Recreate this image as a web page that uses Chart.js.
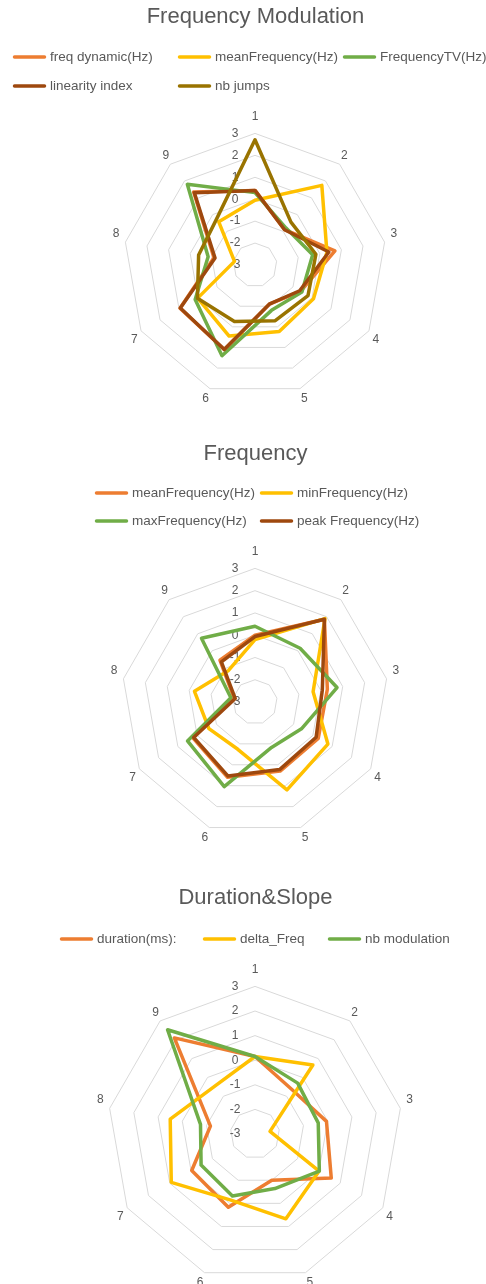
<!DOCTYPE html>
<html>
  <head>
    <title>Radar charts</title>
    <style>
      body { margin: 0; width: 486px; height: 1284px; overflow: hidden; background: #fff; position: relative; }
      canvas { position: absolute; left: 0; }
    </style>
  </head>
  <body>

    <canvas id="fmChart" width="486" height="430" style="top:0px"></canvas>
    <canvas id="freqChart" width="486" height="440" style="top:430px"></canvas>
    <canvas id="durChart" width="486" height="445" style="top:870px"></canvas>

    <script src="https://cdn.jsdelivr.net/npm/chart.js"></script>
    <script>

    // spokes of every radar
    const axisLabels = ['1', '2', '3', '4', '5', '6', '7', '8', '9'];
    const scaleMin = -3;
    const scaleMax = 3;

    // Frequency Modulation
    const fmNames = ['freq dynamic(Hz)', 'meanFrequency(Hz)', 'FrequencyTV(Hz)', 'linearity index', 'nb jumps'];
    const freqDynamic = [0.4, -0.9, 0.7, -0.6, -1.1, 1.1, 0.95, -1.1, 1.35];
    const meanFreqFM = [-0.05, 1.74, 0.33, 0.08, 0.23, 0.45, 0.02, -2.05, -0.43];
    const freqTV = [0.3, -0.8, -0.33, -0.53, -0.8, 1.4, 0.15, -0.83, 1.8];
    const linearity = [0.4, -0.9, 0.42, -0.65, -1.1, 1.1, 0.93, -1.15, 1.3];
    const nbJumps = [2.71, -0.45, -0.18, -0.21, -0.3, -0.26, 0.03, -0.39, -0.27];

    // Frequency
    const freqNames = ['meanFrequency(Hz)', 'minFrequency(Hz)', 'maxFrequency(Hz)', 'peak Frequency(Hz)'];
    const meanFreq = [0.0, 1.85, 0.3, 0.28, 0.3, 0.6, 0.22, -2.05, -0.55];
    const minFreq = [-0.2, 1.89, -0.35, 0.78, 1.2, -0.74, -0.61, -0.24, -1.15];
    const maxFreq = [0.4, 0.15, 0.74, -0.59, -0.83, 1.04, 0.5, -1.9, 0.74];
    const peakFreq = [-0.06, 1.85, 0.07, 0.17, 0.23, 0.54, 0.18, -2.1, -0.65];

    // Duration&Slope
    const durNames = ['duration(ms):', 'delta_Freq', 'nb modulation'];
    const duration = [0.15, -0.65, -0.05, 0.58, -1.0, 0.17, -0.03, -1.16, 2.1];
    const deltaFreq = [0.15, 0.66, -2.38, 0.01, 0.67, -0.14, 0.93, 0.5, -0.46];
    const nbModulation = [0.15, -0.3, -0.39, 0.02, -0.64, -0.32, -0.47, -0.75, 2.53];

    const ORANGE = '#ED7D31', GOLD = '#FFC000', GREEN = '#70AD47', BROWN = '#9E480E', OLIVE = '#997300';
    const TEXT = '#595959';
    const FONT = '"Liberation Sans", Arial, sans-serif';
    const LINE_W = 3.5;

    Chart.defaults.font.family = FONT;
    Chart.defaults.color = TEXT;

    // excel puts the spoke labels closer to the ring than chart.js does
    const labelPad = [4, -4, 0, -2, -3, -3, -2, 0, -4];

    // legend laid out like excel: a short line then the name
    const gridLegend = {
      id: 'gridLegend',
      afterDraw(chart, args, opts) {
        const ctx = chart.ctx;
        ctx.save();
        ctx.font = '13.5px ' + FONT;
        ctx.textBaseline = 'middle';
        ctx.lineWidth = LINE_W;
        ctx.lineCap = 'round';
        chart.data.datasets.forEach((ds, i) => {
          const x = opts.x[i], y = opts.y[i];
          ctx.strokeStyle = ds.borderColor;
          ctx.beginPath();
          ctx.moveTo(x + 1.5, y);
          ctx.lineTo(x + 31.5, y);
          ctx.stroke();
          ctx.fillStyle = TEXT;
          ctx.fillText(ds.label, x + 37, y);
        });
        ctx.restore();
      }
    };

    function makeSets(names, series, colors) {
      return names.map((name, i) => ({
        label: name,
        data: series[i],
        borderColor: colors[i],
        backgroundColor: colors[i],
        borderWidth: LINE_W,
        fill: false,
        pointRadius: 0,
        pointHoverRadius: 0,
        borderJoinStyle: 'round',
        order: names.length - i   // later series on top, like excel
      }));
    }

    function makeRadar(id, title, datasets, lay) {
      const ctx = document.getElementById(id);
      new Chart(ctx, {
        type: 'radar',
        data: { labels: axisLabels, datasets: datasets },
        plugins: [gridLegend],
        options: {
          responsive: false,
          animation: false,
          layout: { padding: { left: 25, right: 0, top: 0, bottom: lay.padBottom } },
          plugins: {
            legend: { display: false },
            tooltip: { enabled: false },
            title: {
              display: true,
              text: title,
              color: TEXT,
              font: { size: 22, weight: 'normal' },
              padding: { top: lay.titleTop, bottom: lay.titleBottom }
            },
            gridLegend: { x: lay.legendX, y: lay.legendY }
          },
          scales: {
            r: {
              min: scaleMin,
              max: scaleMax,
              angleLines: { display: false },
              grid: {
                color: c => c.index === 0 ? 'rgba(0,0,0,0)' : '#D9D9D9',
                lineWidth: 1
              },
              ticks: {
                stepSize: 1,
                color: TEXT,
                font: { size: 12 },
                showLabelBackdrop: false,
                backdropPadding: 0,
                // push the numbers left of the vertical spoke
                callback: v => v + '            '
              },
              pointLabels: {
                color: TEXT,
                font: { size: 12 },
                padding: c => labelPad[c.index]
              }
            }
          }
        }
      });
    }

    makeRadar('fmChart', 'Frequency Modulation',
      makeSets(fmNames, [freqDynamic, meanFreqFM, freqTV, linearity, nbJumps], [ORANGE, GOLD, GREEN, BROWN, OLIVE]),
      { titleTop: 4, titleBottom: 70.6, padBottom: 16,
        legendX: [13, 178, 343, 13, 178], legendY: [57, 57, 57, 86, 86] });

    makeRadar('freqChart', 'Frequency',
      makeSets(freqNames, [meanFreq, minFreq, maxFreq, peakFreq], [ORANGE, GOLD, GREEN, BROWN]),
      { titleTop: 10.8, titleBottom: 68.8, padBottom: 17,
        legendX: [95, 260, 95, 260], legendY: [63, 63, 91, 91] });

    makeRadar('durChart', 'Duration&Slope',
      makeSets(durNames, [duration, deltaFreq, nbModulation], [ORANGE, GOLD, GREEN]),
      { titleTop: 14.8, titleBottom: 42.8, padBottom: 16,
        legendX: [60, 203, 328], legendY: [69, 69, 69] });

    </script>
  </body>
</html>
